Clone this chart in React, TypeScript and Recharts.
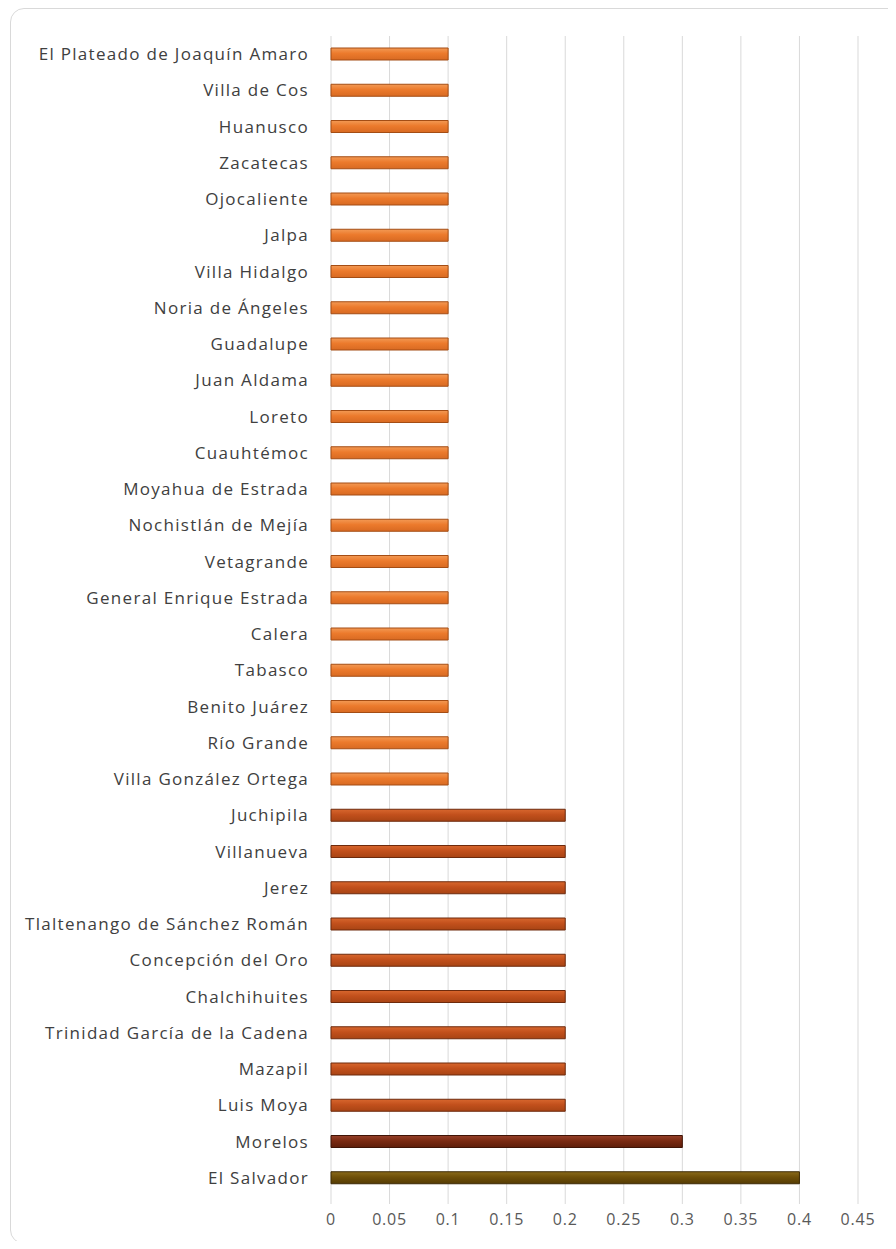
import { Bar, BarChart, CartesianGrid, Cell, XAxis, YAxis } from "recharts";

const municipios = [
  "El Plateado de Joaquín Amaro",
  "Villa de Cos",
  "Huanusco",
  "Zacatecas",
  "Ojocaliente",
  "Jalpa",
  "Villa Hidalgo",
  "Noria de Ángeles",
  "Guadalupe",
  "Juan Aldama",
  "Loreto",
  "Cuauhtémoc",
  "Moyahua de Estrada",
  "Nochistlán de Mejía",
  "Vetagrande",
  "General Enrique Estrada",
  "Calera",
  "Tabasco",
  "Benito Juárez",
  "Río Grande",
  "Villa González Ortega",
  "Juchipila",
  "Villanueva",
  "Jerez",
  "Tlaltenango de Sánchez Román",
  "Concepción del Oro",
  "Chalchihuites",
  "Trinidad García de la Cadena",
  "Mazapil",
  "Luis Moya",
  "Morelos",
  "El Salvador",
];

const valores = [
  0.1, 0.1, 0.1, 0.1, 0.1, 0.1, 0.1, 0.1, 0.1, 0.1, 0.1, 0.1, 0.1, 0.1, 0.1,
  0.1, 0.1, 0.1, 0.1, 0.1, 0.1, 0.2, 0.2, 0.2, 0.2, 0.2, 0.2, 0.2, 0.2, 0.2,
  0.3, 0.4,
];

const xTicks = [0, 0.05, 0.1, 0.15, 0.2, 0.25, 0.3, 0.35, 0.4, 0.45];

const data = municipios.map((name, i) => ({ name, value: valores[i] }));

function colorFor(v: number) {
  if (v >= 0.4) return { fill: "url(#gOlive)", stroke: "#3d2a04" };
  if (v >= 0.3) return { fill: "url(#gBrown)", stroke: "#3f1406" };
  if (v >= 0.2) return { fill: "url(#gRust)", stroke: "#6e2a0c" };
  return { fill: "url(#gOrange)", stroke: "#a44d14" };
}

const font = "'Open Sans', Lato, sans-serif";

export default function App() {
  return (
    <div style={{ position: "relative", width: 896, height: 1249, margin: -8, overflow: "hidden", background: "#fff" }}>
      <div
        style={{
          position: "absolute",
          left: 10,
          top: 8,
          width: 910,
          height: 1236,
          border: "1px solid #d9d9d9",
          borderRadius: 14,
          boxSizing: "border-box",
        }}
      />
      <div style={{ position: "absolute", left: 0, top: 0 }}>
        <BarChart
          width={896}
          height={1249}
          data={data}
          layout="vertical"
          margin={{ top: 36, right: 38, left: 0, bottom: 0 }}
          barSize={12}
        >
          <defs>
            <linearGradient id="gOrange" x1="0" y1="0" x2="0" y2="1">
              <stop offset="0%" stopColor="#f39a55" />
              <stop offset="45%" stopColor="#ec7a2c" />
              <stop offset="100%" stopColor="#d86a22" />
            </linearGradient>
            <linearGradient id="gRust" x1="0" y1="0" x2="0" y2="1">
              <stop offset="0%" stopColor="#d8672e" />
              <stop offset="45%" stopColor="#c2501c" />
              <stop offset="100%" stopColor="#a84414" />
            </linearGradient>
            <linearGradient id="gBrown" x1="0" y1="0" x2="0" y2="1">
              <stop offset="0%" stopColor="#96402a" />
              <stop offset="45%" stopColor="#7a2a12" />
              <stop offset="100%" stopColor="#5e1e0a" />
            </linearGradient>
            <linearGradient id="gOlive" x1="0" y1="0" x2="0" y2="1">
              <stop offset="0%" stopColor="#8a6a1a" />
              <stop offset="45%" stopColor="#6e4f08" />
              <stop offset="100%" stopColor="#553c04" />
            </linearGradient>
          </defs>
          <CartesianGrid horizontal={false} stroke="#d9d9d9" />
          <XAxis
            type="number"
            domain={[0, 0.45]}
            ticks={xTicks}
            tickFormatter={(v) => String(v)}
            axisLine={false}
            tickLine={{ stroke: "#d9d9d9" }}
            tickSize={8}
            tickMargin={10}
            height={53}
            tick={{ fontSize: 16, fill: "#595959", fontFamily: font, letterSpacing: 0.8 }}
            interval={0}
          />
          <YAxis
            type="category"
            dataKey="name"
            width={331}
            axisLine={false}
            tickLine={false}
            tickSize={0}
            tickMargin={22}
            interval={0}
            tick={{ fontSize: 17, fill: "#404040", fontFamily: font, letterSpacing: 1.3 }}
          />
          <Bar dataKey="value" isAnimationActive={false} strokeWidth={1}>
            {data.map((d, i) => {
              const c = colorFor(d.value);
              return <Cell key={i} fill={c.fill} stroke={c.stroke} />;
            })}
          </Bar>
        </BarChart>
      </div>
    </div>
  );
}
